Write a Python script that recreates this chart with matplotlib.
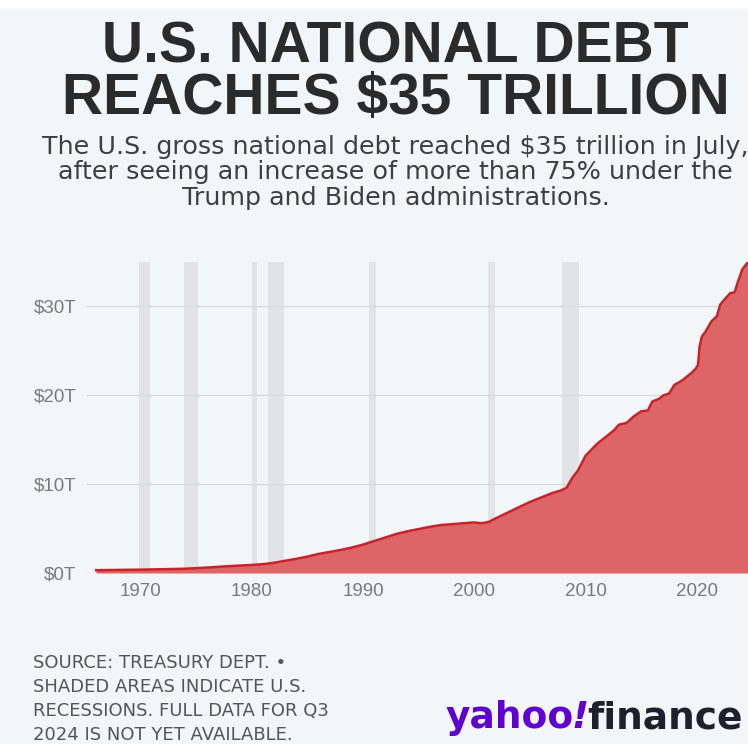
import matplotlib
matplotlib.use("Agg")
import matplotlib.pyplot as plt
from matplotlib.patches import Rectangle

# gross national debt, trillions of dollars
years = [1966, 1968, 1970, 1972, 1974, 1976, 1978, 1980, 1981, 1982, 1983,
         1984, 1985, 1986, 1987, 1988, 1989, 1990, 1991, 1992, 1993, 1994,
         1995, 1996, 1997, 1998, 1999, 2000, 2000.6, 2001.3, 2002, 2003,
         2004, 2005, 2006, 2007, 2007.8, 2008.3, 2008.8, 2009.3, 2010,
         2011, 2011.7, 2012.5, 2013, 2013.7, 2014.3, 2015, 2015.6, 2016,
         2016.6, 2017, 2017.5, 2018, 2018.6, 2019, 2019.5, 2019.9, 2020.1,
         2020.25, 2020.45, 2020.8, 2021.3, 2021.8, 2022.1, 2022.5, 2023,
         2023.4, 2023.7, 2024.1, 2024.6]
debt = [0.32, 0.35, 0.38, 0.43, 0.48, 0.62, 0.78, 0.91, 1.0, 1.15, 1.38,
        1.6, 1.85, 2.15, 2.37, 2.6, 2.87, 3.2, 3.6, 4.0, 4.4, 4.7,
        4.95, 5.2, 5.4, 5.5, 5.6, 5.7, 5.6, 5.75, 6.2, 6.8,
        7.4, 8.0, 8.5, 9.0, 9.3, 9.6, 10.7, 11.5, 13.2,
        14.5, 15.2, 16.0, 16.7, 16.9, 17.6, 18.2, 18.3, 19.3,
        19.6, 20.0, 20.2, 21.2, 21.6, 22.0, 22.5, 23.0, 23.4,
        25.5, 26.6, 27.2, 28.3, 28.9, 30.2, 30.8, 31.5,
        31.6, 32.8, 34.2, 35.0]

# U.S. recessions (start, end) in decimal years
recessions = [(1969.9, 1970.85), (1973.9, 1975.2), (1980.05, 1980.5),
              (1981.5, 1982.85), (1990.55, 1991.2), (2001.2, 2001.85),
              (2007.9, 2009.45)]

ytick_values = [0, 10, 20, 30]
ytick_labels = ["$0T", "$10T", "$20T", "$30T"]
xtick_values = [1970, 1980, 1990, 2000, 2010, 2020]

bg = "#f3f6f9"
fig = plt.figure(figsize=(7.48, 7.44), dpi=100, facecolor=bg)
fig.patches.append(Rectangle((0, 0.991), 1, 0.009, transform=fig.transFigure,
                             color="white", zorder=0))

ax = fig.add_axes([0.115, 0.2298, 0.885, 0.418])
ax.set_facecolor(bg)
ax.set_xlim(1965.1, 2024.6)
ax.set_ylim(0, 35)

for start, end in recessions:
    ax.axvspan(start, end, color="#e1e3e6", zorder=1, lw=0)

for v in ytick_values:
    ax.axhline(v, color="#d9dadc", lw=1, zorder=1.5)

ax.fill_between(years, debt, 0, color="#de6565", zorder=2, lw=0)
ax.plot(years, debt, color="#c8232b", lw=1.8, zorder=3)

for s in ax.spines.values():
    s.set_visible(False)
ax.set_yticks(ytick_values)
ax.set_yticklabels(ytick_labels)
ax.set_xticks(xtick_values)
ax.tick_params(length=0, colors="#7a7a7a", pad=7)
ax.tick_params(axis="y", pad=7)
for lab in ax.get_xticklabels() + ax.get_yticklabels():
    lab.set_fontfamily("Liberation Sans")
    lab.set_fontsize(13.5)

fig.text(0.529, 0.901, "U.S. NATIONAL DEBT\nREACHES $35 TRILLION",
         ha="center", va="center", multialignment="center", linespacing=0.94,
         fontsize=41, fontweight="bold", color="#2b2b2b",
         family="Liberation Sans")

subtitle = ["The U.S. gross national debt reached $35 trillion in July,",
            "after seeing an increase of more than 75% under the",
            "Trump and Biden administrations."]
for i, line in enumerate(subtitle):
    fig.text(0.529, 0.803 - i * 0.0343, line, ha="center", va="center",
             fontsize=18.3, color="#3f3f3f", family="DejaVu Sans")

footer = ["SOURCE: TREASURY DEPT. \u2022",
          "SHADED AREAS INDICATE U.S.",
          "RECESSIONS. FULL DATA FOR Q3",
          "2024 IS NOT YET AVAILABLE."]
for i, line in enumerate(footer):
    fig.text(0.044, 0.109 - i * 0.0322, line, ha="left", va="center",
             fontsize=13, color="#555555", family="DejaVu Sans")

# logo: "yahoo" + slanted "!" in purple, "finance" in near-black
renderer = fig.canvas.get_renderer()
x0 = 0.595
logo_parts = [("yahoo", "#6001d2", "normal"), ("!", "#6001d2", "italic"),
              ("finance", "#1f1f2e", "normal")]
for word, colour, style in logo_parts:
    t = fig.text(x0, 0.021, word, ha="left", va="baseline", fontsize=27,
                 fontweight="heavy", fontstyle=style, color=colour,
                 family="DejaVu Sans")
    bb = t.get_window_extent(renderer)
    x0 += bb.width / fig.bbox.width - 0.002

fig.savefig("out.png", dpi=100, facecolor=bg)
